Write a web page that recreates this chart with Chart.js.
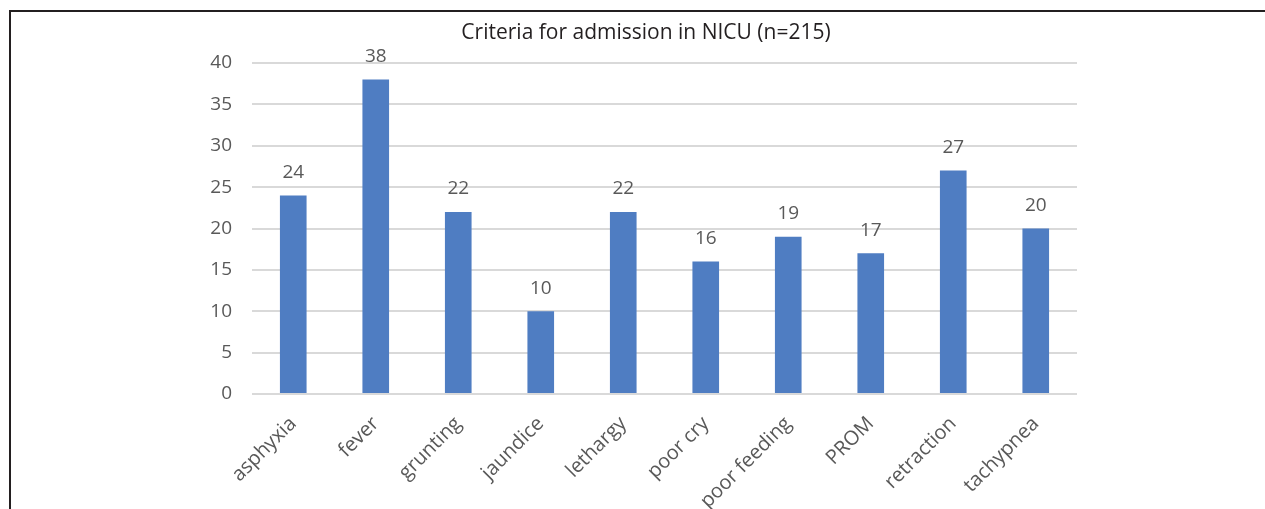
<!DOCTYPE html>
<html>
<head>
<meta charset="utf-8">
<script src="https://cdn.jsdelivr.net/npm/chart.js@4"></script>
<style>
    html, body { margin: 0; padding: 0; background: #fff; }
    #wrap { position: relative; width: 1265px; height: 509px; overflow: hidden; }
    #frame {
        position: absolute; left: 9px; top: 10px; right: -5px; bottom: -5px;
        border-left: 2px solid #231f20; border-top: 2px solid #231f20;
    }
    #chart { position: absolute; left: 0; top: 0; }
</style>
</head>
<body>
<div id="wrap">
    <div id="frame"></div>
    <canvas id="chart" width="1265" height="509"></canvas>
</div>
<script>
// dữ liệu
const categories = ['asphyxia', 'fever', 'grunting', 'jaundice', 'lethargy', 'poor cry', 'poor feeding', 'PROM', 'retraction', 'tachypnea'];
const counts = [24, 38, 22, 10, 22, 16, 19, 17, 27, 20];
const yTicks = [0, 5, 10, 15, 20, 25, 30, 35, 40];
const chartTitle = 'Criteria for admission in NICU (n=215)';

const labelColor = '#595959';
const fontFamily = '"Open Sans", "Noto Sans", sans-serif';

// vẽ số liệu trên đầu mỗi cột
const valueLabels = {
    id: 'valueLabels',
    afterDatasetsDraw(chart) {
        const ctx = chart.ctx;
        const meta = chart.getDatasetMeta(0);
        ctx.save();
        ctx.font = '19px ' + fontFamily;
        ctx.fillStyle = labelColor;
        ctx.textAlign = 'center';
        ctx.textBaseline = 'middle';
        meta.data.forEach((bar, i) => {
            ctx.fillText(String(counts[i]), bar.x, bar.y - 23);
        });
        ctx.restore();
    }
};

// tiêu đề: đặt giữa khung hình chứ không giữa vùng vẽ
const titleText = {
    id: 'titleText',
    afterDraw(chart) {
        const ctx = chart.ctx;
        ctx.save();
        ctx.font = '21px ' + fontFamily;
        ctx.fillStyle = '#231f20';
        ctx.textAlign = 'center';
        ctx.textBaseline = 'middle';
        ctx.fillText(chartTitle, 646, 33);
        ctx.restore();
    }
};

const ctx = document.getElementById('chart').getContext('2d');
const chart = new Chart(ctx, {
    type: 'bar',
    data: {
        labels: categories,
        datasets: [{
            data: counts,
            backgroundColor: '#4f7dc2',
            borderWidth: 0,
            categoryPercentage: 1,
            barPercentage: 0.323
        }]
    },
    options: {
        responsive: false,
        animation: false,
        layout: { padding: { left: 0, right: 188, top: 63, bottom: 0 } },
        plugins: {
            legend: { display: false },
            tooltip: { enabled: false },
            title: { display: false }
        },
        scales: {
            x: {
                grid: { display: false },
                border: { display: false },
                ticks: {
                    color: labelColor,
                    font: { family: fontFamily, size: 20 },
                    minRotation: 45,
                    maxRotation: 45,
                    autoSkip: false,
                    padding: 10
                },
                afterFit(scale) { scale.height = 115; }
            },
            y: {
                min: 0,
                max: 40,
                afterBuildTicks(scale) {
                    scale.ticks = yTicks.map(v => ({ value: v }));
                },
                grid: { color: '#d9d9d9', lineWidth: 2, drawTicks: false },
                border: { display: false },
                ticks: {
                    color: labelColor,
                    font: { family: fontFamily, size: 19 },
                    padding: 20
                },
                afterFit(scale) { scale.width = 252; }
            }
        }
    },
    plugins: [valueLabels, titleText]
});
</script>
</body>
</html>
